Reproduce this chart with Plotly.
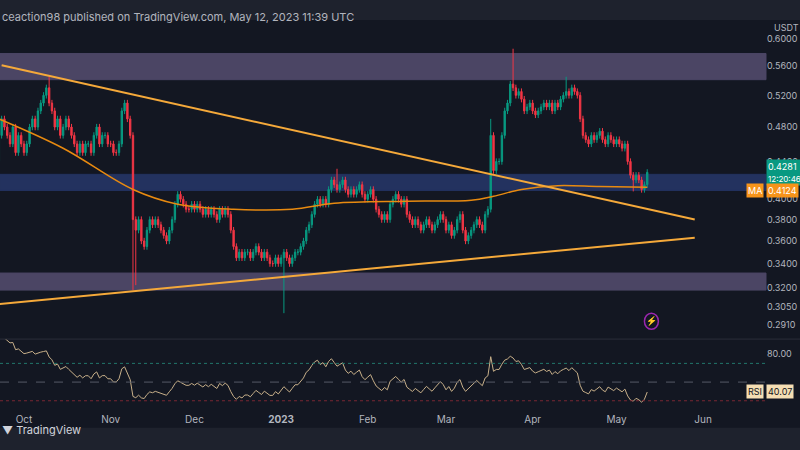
import numpy as np
import pandas as pd
import plotly.graph_objects as go

start_date = "2022-09-22"
closes = [
 0.47,0.49,0.48,0.47,0.46,0.48,0.45,0.47,0.46,
 0.45,0.46,0.48,0.49,0.48,0.50,0.51,0.52,0.53,0.51,0.50,0.48,0.49,0.47,0.48,0.49,0.48,0.47,0.46,0.45,0.46,0.45,0.46,0.46,0.45,0.47,0.48,0.46,0.47,0.47,0.46,
 0.46,0.45,0.45,0.46,0.50,0.51,0.49,0.47,0.38,0.37,0.38,0.36,0.355,0.37,0.38,0.375,0.38,0.375,0.37,0.365,0.36,0.37,0.38,0.395,0.405,0.40,0.395,0.39,0.39,0.395,
 0.39,0.395,0.39,0.385,0.39,0.385,0.39,0.385,0.38,0.39,0.385,0.39,0.385,0.37,0.355,0.345,0.35,0.345,0.35,0.35,0.345,0.35,0.355,0.35,0.345,0.35,0.345,0.34,0.34,0.345,0.34,
 0.345,0.35,0.345,0.34,0.345,0.35,0.35,0.355,0.36,0.37,0.375,0.385,0.395,0.40,0.395,0.40,0.395,0.41,0.42,0.415,0.41,0.415,0.42,0.41,0.405,0.41,0.405,0.41,0.415,0.405,0.40,
 0.405,0.41,0.40,0.39,0.385,0.38,0.385,0.38,0.395,0.40,0.405,0.40,0.395,0.40,0.385,0.38,0.375,0.38,0.375,0.37,0.375,0.38,0.375,0.37,0.375,0.38,0.385,0.38,
 0.37,0.375,0.365,0.37,0.38,0.385,0.37,0.36,0.365,0.37,0.375,0.38,0.375,0.37,0.385,0.39,0.47,0.43,0.44,0.44,0.47,0.50,0.51,0.535,0.53,0.52,0.525,0.515,0.50,0.505,0.51,
 0.50,0.495,0.50,0.505,0.51,0.505,0.51,0.50,0.51,0.505,0.515,0.52,0.525,0.52,0.53,0.525,0.52,0.49,0.47,0.465,0.46,0.47,0.465,0.47,0.475,0.465,0.46,0.47,0.465,0.46,
 0.465,0.46,0.455,0.46,0.44,0.425,0.42,0.425,0.42,0.41,0.415,0.4281]
first_open = 0.44
extra_highs = {"2022-10-10": 0.545, "2023-01-21": 0.432, "2023-03-25": 0.585, "2023-03-17": 0.49, "2023-04-13": 0.545}
extra_lows = {"2022-09-22": 0.41, "2022-11-09": 0.318, "2022-11-10": 0.322, "2023-01-02": 0.30, "2023-05-07": 0.408}

ma_dates = ["2022-09-22","2022-10-15","2022-11-09","2022-11-25","2022-12-15","2023-01-05","2023-01-20","2023-02-15","2023-03-10","2023-03-18","2023-03-28","2023-04-10","2023-04-25","2023-05-12"]
ma_vals = [0.49,0.455,0.41,0.395,0.39,0.39,0.396,0.398,0.399,0.403,0.41,0.414,0.413,0.4124]

upper_line = (["2022-09-23","2023-05-29"], [0.561, 0.38])
lower_line = (["2022-09-22","2023-05-29"], [0.307, 0.363])
zones = [(0.541, 0.578, "#4e4868"), (0.409, 0.426, "#243463"), (0.318, 0.332, "#4e4868")]

price_ticks = [0.6, 0.56, 0.52, 0.48, 0.44, 0.40, 0.38, 0.36, 0.34, 0.32, 0.305, 0.291]
month_ticks = ["2022-10-01","2022-11-01","2022-12-01","2023-01-01","2023-02-01","2023-03-01","2023-04-01","2023-05-01","2023-06-01"]
month_text = ["Oct","Nov","Dec","<b>2023</b>","Feb","Mar","Apr","May","Jun"]

dates = pd.date_range(start_date, periods=len(closes), freq="D")
c = np.array(closes)
o = np.concatenate([[first_open], c[:-1]])
h = np.maximum(o, c) * 1.008
l = np.minimum(o, c) * 0.992
ds = list(dates.strftime("%Y-%m-%d"))
for k, v in extra_highs.items():
    h[ds.index(k)] = v
for k, v in extra_lows.items():
    l[ds.index(k)] = v

# RSI 14 (Wilder)
d = np.diff(c, prepend=first_open)
up = np.where(d > 0, d, 0.0); dn = np.where(d < 0, -d, 0.0)
au = np.zeros_like(c); ad = np.zeros_like(c)
au[0], ad[0] = up[0] + 1e-4, dn[0] + 1e-4
for i in range(1, len(c)):
    au[i] = (au[i-1]*13 + up[i]) / 14
    ad[i] = (ad[i-1]*13 + dn[i]) / 14
rsi = 100 - 100 / (1 + au / ad)

BG = "#131722"
fig = go.Figure()
fig.add_trace(go.Candlestick(x=dates, open=o, high=h, low=l, close=c,
    increasing=dict(line=dict(color="#089981", width=1), fillcolor="#089981"),
    decreasing=dict(line=dict(color="#f23645", width=1), fillcolor="#f23645"),
    whiskerwidth=0, xaxis="x", yaxis="y", showlegend=False))
fig.add_trace(go.Scatter(x=pd.to_datetime(ma_dates), y=ma_vals, mode="lines",
    line=dict(color="#e88a10", width=1.5, shape="spline"), showlegend=False, yaxis="y"))
for xs, ys in (upper_line, lower_line):
    fig.add_trace(go.Scatter(x=pd.to_datetime(xs), y=ys, mode="lines",
        line=dict(color="#f5a93a", width=2), showlegend=False, yaxis="y"))
fig.add_trace(go.Scatter(x=dates, y=rsi, mode="lines", line=dict(color="#c8b08a", width=1),
    showlegend=False, xaxis="x", yaxis="y2"))

shapes = []
for lo, hi, col in zones:
    shapes.append(dict(type="rect", xref="paper", x0=0, x1=1, yref="y", y0=lo, y1=hi,
                       fillcolor=col, opacity=0.95, line=dict(width=1, color=col), layer="below"))
for lvl, col, dash in ((70, "#22776b", "dot"), (50, "#555a66", "dash"), (30, "#7a2733", "dot")):
    shapes.append(dict(type="line", xref="paper", x0=0, x1=1, yref="y2", y0=lvl, y1=lvl,
                       line=dict(color=col, width=1, dash=dash)))
shapes.append(dict(type="line", xref="paper", x0=0, x1=1.05, yref="paper", y0=0.186, y1=0.186,
                   line=dict(color="#2a2e39", width=1)))
shapes.append(dict(type="rect", xref="paper", yref="paper", x0=-0.01, x1=1.06, y0=1.0, y1=1.06,
                   fillcolor="#1e222d", line=dict(width=0)))
shapes.append(dict(type="rect", xref="paper", yref="paper", x0=-0.01, x1=1.06, y0=-0.098, y1=-0.04,
                   fillcolor="#1e222d", line=dict(width=0)))
shapes.append(dict(type="circle", xref="x", yref="y", x0="2023-05-11", x1="2023-05-16", y0=0.288, y1=0.300,
                   line=dict(color="#9c27b0", width=1.5)))

ann = [
 dict(xref="paper", yref="paper", x=0, y=1.03, text="ceaction98 published on TradingView.com, May 12, 2023 11:39 UTC",
      showarrow=False, xanchor="left", font=dict(color="#b2b5be", size=11)),
 dict(xref="paper", yref="paper", x=1.008, y=1.0, yanchor="top", text="USDT", showarrow=False, xanchor="left",
      font=dict(color="#b2b5be", size=9)),
 dict(xref="paper", yref="y", x=1.0, y=np.log10(0.4281), text="0.4281<br><span style='font-size:8px'>12:20:46</span>",
      showarrow=False, xanchor="left", bgcolor="#089981", font=dict(color="white", size=9), borderpad=1, align="left"),
 dict(xref="paper", yref="y", x=1.0, y=np.log10(0.4085), text="0.4124", showarrow=False, xanchor="left",
      bgcolor="#f7931a", font=dict(color="white", size=9), borderpad=1),
 dict(xref="paper", yref="y", x=0.998, y=np.log10(0.4085), text="MA", showarrow=False, xanchor="right",
      bgcolor="#f7931a", font=dict(color="white", size=9), borderpad=1),
 dict(xref="paper", yref="y2", x=1.0, y=40, text="40.07", showarrow=False, xanchor="left",
      bgcolor="#f5deb3", font=dict(color="#131722", size=9), borderpad=1),
 dict(xref="paper", yref="y2", x=0.998, y=40, text="RSI", showarrow=False, xanchor="right",
      bgcolor="#f5deb3", font=dict(color="#131722", size=9), borderpad=1),
 dict(xref="paper", yref="paper", x=0, y=-0.07, text="▼ TradingView", showarrow=False, xanchor="left",
      font=dict(color="#d1d4dc", size=11)),
 dict(xref="x", yref="y", x="2023-05-13 12:00", y=np.log10(0.294), text="⚡", showarrow=False,
      font=dict(color="#9c27b0", size=9)),
]

fig.update_layout(
    width=800, height=450, paper_bgcolor=BG, plot_bgcolor=BG,
    margin=dict(l=0, r=34, t=20, b=38, autoexpand=False),
    font=dict(family="Inter, Roboto, sans-serif", color="#b2b5be", size=9),
    shapes=shapes, annotations=ann,
    xaxis=dict(range=["2022-09-22 10:00", "2023-06-23 12:00"], tickvals=month_ticks, ticktext=month_text,
               showgrid=False, zeroline=False, rangeslider=dict(visible=False), anchor="y2",
               tickfont=dict(color="#b2b5be", size=10), ticks="", automargin=False),
    yaxis=dict(type="log", domain=[0.186, 1], range=[np.log10(0.281), np.log10(0.629)], side="right",
               tickvals=price_ticks, ticktext=[f"{v:.4f}" for v in price_ticks], showgrid=False,
               zeroline=False, tickfont=dict(color="#b2b5be", size=9), automargin=False),
    yaxis2=dict(domain=[0, 0.186], range=[18, 96], side="right", tickvals=[80], ticktext=["80.00"],
                showgrid=False, zeroline=False, tickfont=dict(color="#b2b5be", size=9), automargin=False),
)
fig.write_html("out.html", config={"displayModeBar": False},
               post_script="document.body.style.margin='0';document.body.style.background='#131722';")
